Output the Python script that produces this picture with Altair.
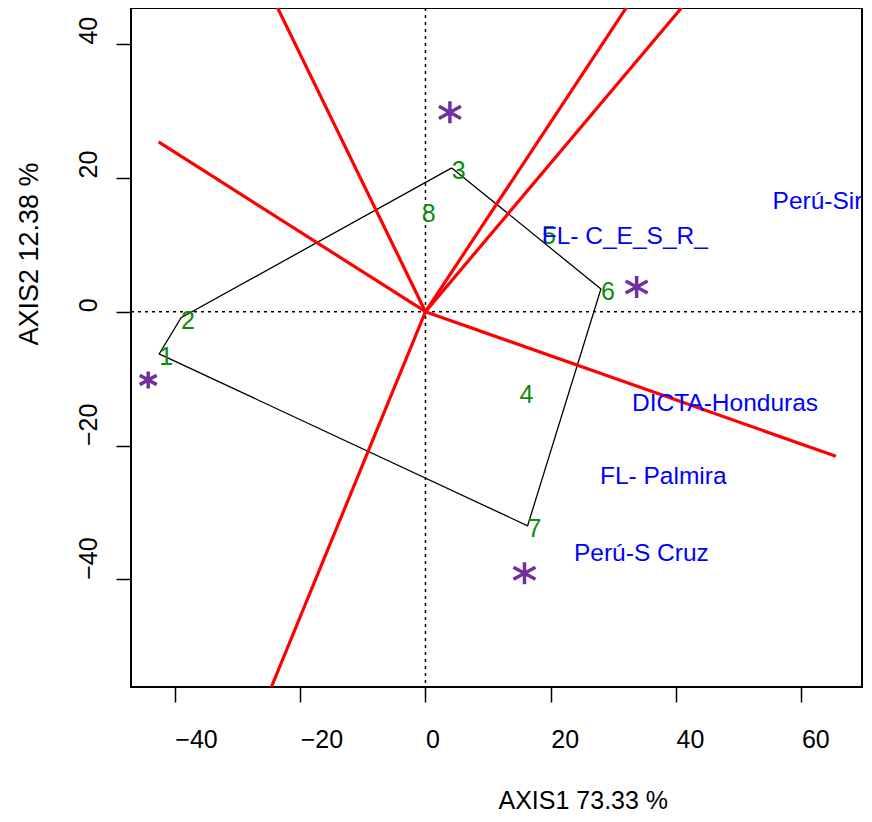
import altair as alt
import pandas as pd

# ---------------- data ----------------
geno_labels = ["1", "2", "3", "4", "5", "6", "7", "8"]
geno_x = [-42.5, -39.0, 4.2, 15.0, 18.6, 28.0, 16.3, -0.6]
geno_y = [-6.3, -0.9, 21.5, -12.0, 11.8, 3.4, -32.0, 15.0]

hull_order = ["3", "2", "1", "7", "6", "3"]

env_labels = ["Perú-Sir", "FL- C_E_S_R_", "DICTA-Honduras", "FL- Palmira", "Perú-S Cruz"]
env_x = [55.4, 18.55, 32.96, 27.85, 23.7]
env_y = [16.4, 11.17, -13.8, -24.7, -36.2]

star_x = [3.9, 33.7, 15.8, -44.25]
star_y = [29.8, 3.7, -39.1, -10.2]
star_kind = ["big", "big", "big", "small"]

ray_x = [-23.8, 32.3, 41.2, -42.6, 65.5, -24.6]
ray_y = [45.8, 45.8, 45.8, 25.4, -21.6, -56.1]

x_ticks = [-40, -20, 0, 20, 40, 60]
y_ticks = [-40, -20, 0, 20, 40]

# ---------------- tables ----------------
geno = pd.DataFrame({"label": geno_labels, "x": geno_x, "y": geno_y})
pos = {l: (a, b) for l, a, b in zip(geno_labels, geno_x, geno_y)}
hull = pd.DataFrame({
    "order": list(range(len(hull_order))),
    "x": [pos[l][0] for l in hull_order],
    "y": [pos[l][1] for l in hull_order],
})
env = pd.DataFrame({"label": env_labels, "x": env_x, "y": env_y})
stars = pd.DataFrame({"x": star_x, "y": star_y, "kind": star_kind})
rays = pd.DataFrame({"ox": [0.0] * len(ray_x), "oy": [0.0] * len(ray_x), "x": ray_x, "y": ray_y})
ref = pd.DataFrame({"v": [0.0]})

FONT = "Liberation Sans"
xs = alt.Scale(domain=[-47.0, 69.67], nice=False, zero=False)
ys = alt.Scale(domain=[-56.1, 45.4], nice=False, zero=False)

x_axis = alt.Axis(
    values=x_ticks, title="AXIS1 73.33 %", grid=False, domain=False,
    tickSize=15, tickColor="black", tickWidth=1.5,
    labelFont=FONT, labelFontSize=25, labelColor="black",
    labelAlign="left", labelBaseline="alphabetic", labelPadding=45.5,
    labelFlush=False, labelOverlap=False,
    titleFont=FONT, titleFontSize=25, titleFontWeight="normal", titleColor="black",
    titleX=367, titleY=121, titleAlign="left", titleBaseline="alphabetic",
)
y_axis = alt.Axis(
    values=y_ticks, title="AXIS2 12.38 %", grid=False, domain=False,
    tickSize=15, tickColor="black", tickWidth=1.5,
    labelFont=FONT, labelFontSize=25, labelColor="black", labelAngle=270,
    labelAlign="left", labelBaseline="alphabetic", labelPadding=20,
    labelFlush=False, labelOverlap=False,
    titleFont=FONT, titleFontSize=27, titleFontWeight="normal", titleColor="black",
    titleAngle=270, titleX=-94, titleY=337, titleAlign="left", titleBaseline="alphabetic",
)


def X(field):
    return alt.X(field, type="quantitative", scale=xs, axis=x_axis)


def Y(field):
    return alt.Y(field, type="quantitative", scale=ys, axis=y_axis)


vline = alt.Chart(ref).mark_rule(color="black", strokeWidth=1.5, strokeDash=[3, 4]).encode(x=X("v"))
hline = alt.Chart(ref).mark_rule(color="black", strokeWidth=1.5, strokeDash=[3, 4]).encode(y=Y("v"))

hull_line = alt.Chart(hull).mark_line(color="black", strokeWidth=1.3).encode(
    x=X("x"), y=Y("y"), order="order:Q"
)

ray_lines = alt.Chart(rays).mark_rule(color="#FF0000", strokeWidth=3.2, clip=True).encode(
    x=X("ox"), y=Y("oy"), x2="x:Q", y2="y:Q"
)

geno_text = alt.Chart(geno).mark_text(
    align="left", baseline="middle", dy=3, font=FONT, fontSize=25, color="#0A8C0A"
).encode(x=X("x"), y=Y("y"), text="label:N")

env_text = alt.Chart(env).mark_text(
    align="left", baseline="middle", font=FONT, fontSize=24.5, color="#0000FF", clip=True
).encode(x=X("x"), y=Y("y"), text="label:N")

STAR = "M0,-1L0,1M-1,-0.55L1,0.55M-1,0.55L1,-0.55"
star_pts = alt.Chart(stars).mark_point(
    shape=STAR, filled=False, color="#7030A0", strokeWidth=3.5, opacity=1
).encode(
    x=X("x"), y=Y("y"),
    size=alt.Size("kind:N", scale=alt.Scale(domain=["big", "small"], range=[484, 289]), legend=None),
)

chart = alt.layer(
    vline, hline, hull_line, ray_lines, geno_text, env_text, star_pts
).properties(
    width=731, height=679,
    autosize=alt.AutoSizeParams(type="none"),
    padding={"left": 123, "top": 0, "right": 2, "bottom": 127},
    background="white",
).configure_view(stroke="black", strokeWidth=2)

chart.save("out.html", embed_options={"renderer": "svg", "actions": False})
